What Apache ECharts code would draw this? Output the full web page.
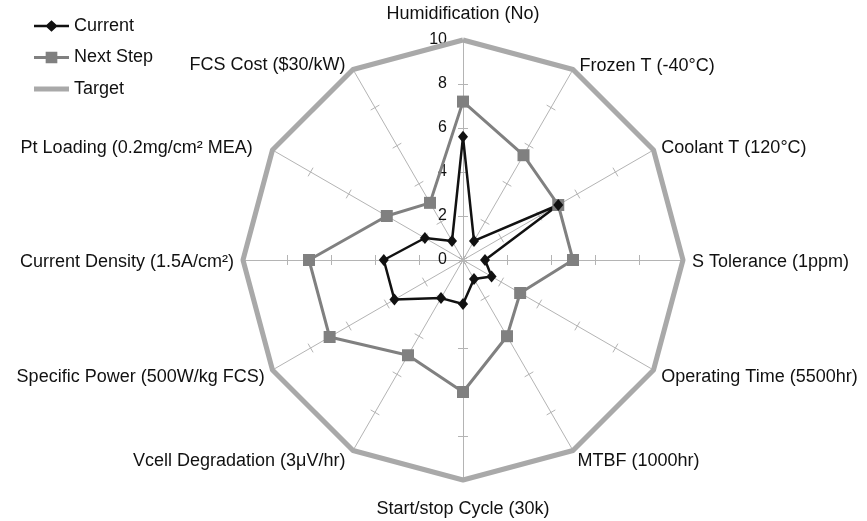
<!DOCTYPE html>
<html><head><meta charset="utf-8">
<script src="https://cdn.jsdelivr.net/npm/echarts@6/dist/echarts.min.js"></script>
<style>html,body{margin:0;padding:0;background:#fff}#c{width:867px;height:521px}</style>
</head><body><div id="c"></div>
<script>
// Axes listed clockwise, starting at the top
const categories = ['Humidification (No)', 'Frozen T (-40°C)', 'Coolant T (120°C)', 'S Tolerance (1ppm)',
  'Operating Time (5500hr)', 'MTBF (1000hr)', 'Start/stop Cycle (30k)', 'Vcell Degradation (3μV/hr)',
  'Specific Power (500W/kg FCS)', 'Current Density (1.5A/cm²)', 'Pt Loading (0.2mg/cm² MEA)', 'FCS Cost ($30/kW)'];
const currentValues  = [5.6, 1.0, 5.0, 1.0, 1.5, 1.0, 2.0, 2.0, 3.6, 3.6, 2.0, 1.0];
const nextStepValues = [7.2, 5.5, 5.0, 5.0, 3.0, 4.0, 6.0, 5.0, 7.0, 7.0, 4.0, 3.0];
const targetValues   = [10, 10, 10, 10, 10, 10, 10, 10, 10, 10, 10, 10];
const seriesNames = ['Current', 'Next Step', 'Target'];
const axisMin = 0, axisMax = 10, axisSplits = 5;

const FONT = "'Liberation Sans', Arial, sans-serif";
const n = categories.length;
// ECharts places radar indicators counter-clockwise; reorder so they run clockwise
const order = categories.map((_, i) => (n - i) % n);
const pick = arr => order.map(i => arr[i]);

// label placement tweaks (layout only): [dx, dy] in px
const nameShift = [[0, 0], [2, 4], [0, 3], [0, 2], [0, 3], [0, 3], [0, 2], [-3, 3], [0, 3], [0, 2], [-12, 3], [-3, 3]];
function paddingFor(i) {
  const [dx, dy] = nameShift[i];
  const p = [0, 0, 0, 0];
  if (i === 0) { if (dy < 0) p[2] = -dy; return p; }
  if (i === n / 2) { if (dy > 0) p[0] = dy; return p; }
  if (dy > 0) p[0] = 2 * dy; else p[2] = -2 * dy;
  if (i < n / 2) { if (dx > 0) p[3] = dx; } else { if (dx < 0) p[1] = -dx; }
  return p;
}
const rich = {};
categories.forEach((c, i) => {
  rich['n' + i] = { fontSize: 18, color: '#111', fontFamily: FONT, padding: paddingFor(i) };
});

function nameGapFor(i) {
  if (i === 0) return 17;
  if (i === n / 2) return 18;
  return 9;
}

const indicatorsMain = order.map(i => ({
  name: categories[i], min: axisMin, max: axisMax,
  nameGap: nameGapFor(i),
  axisLabel: { show: i === 0 }
}));
const indicatorsTicks = order.map(i => ({ name: '', min: axisMin, max: axisMax }));

const AX = '#b4b4b4';
const chart = echarts.init(document.getElementById('c'), null, { renderer: 'canvas' });
chart.setOption({
  animation: false,
  backgroundColor: '#fff',
  legend: {
    orient: 'vertical', left: 29, top: 12,
    itemWidth: 35, itemHeight: 12, itemGap: 13.5,
    textStyle: { fontSize: 18, color: '#111', fontFamily: FONT },
    itemStyle: { borderWidth: 0 },
    data: [
      { name: seriesNames[0], icon: 'path://M0,4.8 H13 L18,0 L23,4.8 H36 V7.2 H23 L18,12 L13,7.2 H0 Z' },
      { name: seriesNames[1], icon: 'path://M0,4.5 H12 V0 H24 V4.5 H36 V7.5 H24 V12 H12 V7.5 H0 Z' },
      { name: seriesNames[2], icon: 'path://M0,3.5 H36 V8.5 H0 Z' }
    ]
  },
  radar: [{
    center: [463, 260], radius: 220, startAngle: 90,
    splitNumber: axisSplits, shape: 'polygon',
    indicator: indicatorsMain,
    axisName: {
      color: '#111', fontSize: 18, fontFamily: FONT, rich: rich,
      formatter: (name) => '{n' + categories.indexOf(name) + '|' + name + '}'
    },
    axisLine: { show: true, lineStyle: { color: AX, width: 1 } },
    splitLine: { show: false }, splitArea: { show: false },
    axisTick: { show: true, length: 5, lineStyle: { color: AX, width: 1 } },
    axisLabel: { show: false, color: '#111', fontSize: 16, fontFamily: FONT, margin: 16 }
  }, {
    // same spokes built in the opposite direction, so the ticks cross each spoke
    center: [463, 260], radius: -220, startAngle: 270,
    splitNumber: axisSplits, shape: 'polygon',
    indicator: indicatorsTicks,
    axisName: { show: false },
    axisLine: { show: false },
    splitLine: { show: false }, splitArea: { show: false },
    axisTick: { show: true, length: 5, lineStyle: { color: AX, width: 1 } },
    axisLabel: { show: false }
  }],
  series: [{
    type: 'radar', radarIndex: 0,
    data: [
      { name: seriesNames[2], value: pick(targetValues), symbol: 'none',
        lineStyle: { color: '#a9a9a9', width: 5 }, itemStyle: { color: '#a9a9a9', borderWidth: 0 } },
      { name: seriesNames[1], value: pick(nextStepValues), symbol: 'rect', symbolSize: 12,
        lineStyle: { color: '#808080', width: 3 }, itemStyle: { color: '#808080', borderWidth: 0 } },
      { name: seriesNames[0], value: pick(currentValues), symbol: 'diamond', symbolSize: [10, 12],
        lineStyle: { color: '#111111', width: 2.5 }, itemStyle: { color: '#111111', borderWidth: 0 } }
    ]
  }]
});
</script>
</body></html>
